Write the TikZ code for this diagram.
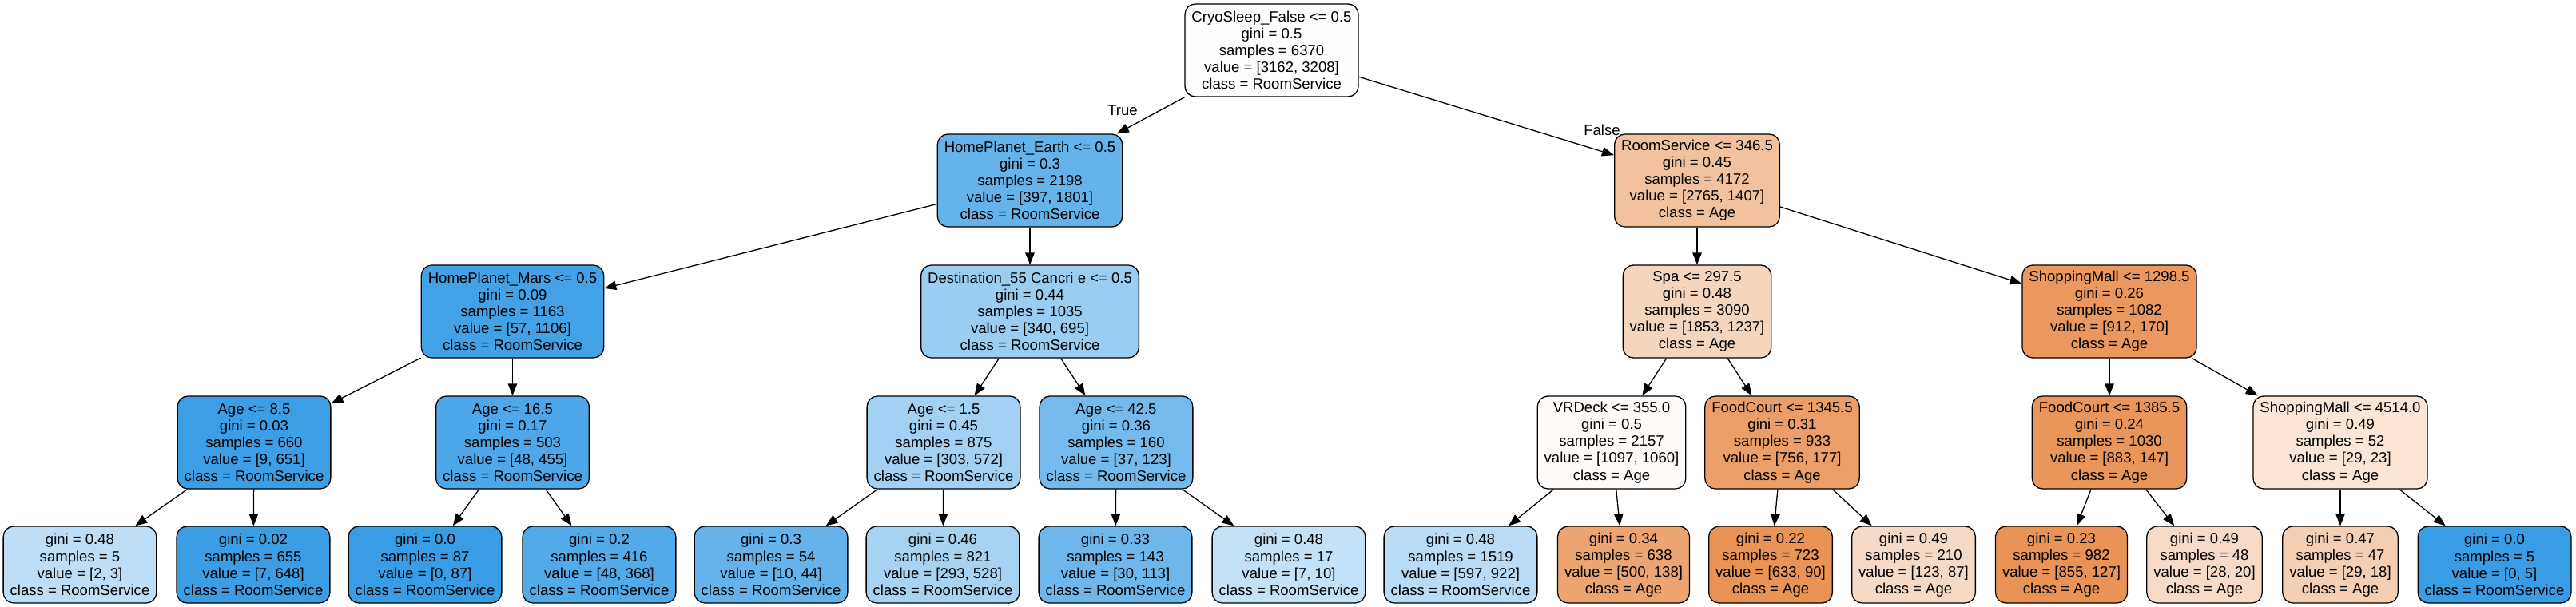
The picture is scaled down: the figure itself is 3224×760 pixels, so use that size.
\documentclass[tikz,border=0pt]{standalone}
\usepackage{fontspec}
\setmainfont{Liberation Sans}
\usetikzlibrary{arrows.meta}
\definecolor{cA}{RGB}{252,254,255}
\definecolor{cB}{RGB}{101,179,235}
\definecolor{cC}{RGB}{242,193,158}
\definecolor{cD}{RGB}{67,162,230}
\definecolor{cE}{RGB}{154,205,242}
\definecolor{cF}{RGB}{246,213,189}
\definecolor{cG}{RGB}{234,152,94}
\definecolor{cH}{RGB}{60,158,229}
\definecolor{cI}{RGB}{78,167,232}
\definecolor{cJ}{RGB}{162,209,243}
\definecolor{cK}{RGB}{117,186,237}
\definecolor{cL}{RGB}{254,251,248}
\definecolor{cM}{RGB}{235,158,103}
\definecolor{cN}{RGB}{233,150,90}
\definecolor{cO}{RGB}{250,229,214}
\definecolor{l01}{RGB}{189,222,246}
\definecolor{l02}{RGB}{59,158,229}
\definecolor{l03}{RGB}{57,157,229}
\definecolor{l04}{RGB}{83,170,232}
\definecolor{l05}{RGB}{102,179,235}
\definecolor{l06}{RGB}{167,211,243}
\definecolor{l07}{RGB}{110,183,236}
\definecolor{l08}{RGB}{196,226,247}
\definecolor{l09}{RGB}{185,220,246}
\definecolor{l10}{RGB}{236,164,112}
\definecolor{l11}{RGB}{233,147,85}
\definecolor{l12}{RGB}{247,218,197}
\definecolor{l13}{RGB}{233,148,86}
\definecolor{l14}{RGB}{248,219,198}
\definecolor{l15}{RGB}{245,207,180}
\definecolor{l16}{RGB}{57,157,229}
\tikzset{
  tn/.style={draw=black, line width=1.3pt, rounded corners=13pt, align=center,
    inner xsep=8.5pt, inner ysep=0pt, font=\fontsize{18.55}{21.1}\selectfont},
  inner/.style={tn, minimum height=116pt},
  leaf/.style={tn, minimum height=96pt},
  conn/.style={line width=1.3pt, -{Triangle[length=15pt,width=11.5pt]}},
  elab/.style={font=\fontsize{18.55}{21.1}\selectfont, inner sep=0pt}
}
\begin{document}
\begin{tikzpicture}[x=1pt,y=-1pt]
\useasboundingbox (0,0) rectangle (3224,760);
% level 0
\node[inner, fill=cA] (n0) at (1591.5,63) {CryoSleep\_False <= 0.5\\gini = 0.5\\samples = 6370\\value = [3162, 3208]\\class = RoomService};
% level 1
\node[inner, fill=cB] (n1) at (1289,226) {HomePlanet\_Earth <= 0.5\\gini = 0.3\\samples = 2198\\value = [397, 1801]\\class = RoomService};
\node[inner, fill=cC] (n2) at (2124,226) {RoomService <= 346.5\\gini = 0.45\\samples = 4172\\value = [2765, 1407]\\class = Age};
% level 2
\node[inner, fill=cD] (n3) at (641.5,390) {HomePlanet\_Mars <= 0.5\\gini = 0.09\\samples = 1163\\value = [57, 1106]\\class = RoomService};
\node[inner, fill=cE] (n4) at (1289,390) {Destination\_55 Cancri e <= 0.5\\gini = 0.44\\samples = 1035\\value = [340, 695]\\class = RoomService};
\node[inner, fill=cF] (n5) at (2124,390) {Spa <= 297.5\\gini = 0.48\\samples = 3090\\value = [1853, 1237]\\class = Age};
\node[inner, fill=cG] (n6) at (2640,390) {ShoppingMall <= 1298.5\\gini = 0.26\\samples = 1082\\value = [912, 170]\\class = Age};
% level 3
\node[inner, fill=cH] (n7) at (318,554) {Age <= 8.5\\gini = 0.03\\samples = 660\\value = [9, 651]\\class = RoomService};
\node[inner, fill=cI] (n8) at (641.5,554) {Age <= 16.5\\gini = 0.17\\samples = 503\\value = [48, 455]\\class = RoomService};
\node[inner, fill=cJ] (n9) at (1181,554) {Age <= 1.5\\gini = 0.45\\samples = 875\\value = [303, 572]\\class = RoomService};
\node[inner, fill=cK] (n10) at (1397,554) {Age <= 42.5\\gini = 0.36\\samples = 160\\value = [37, 123]\\class = RoomService};
\node[inner, fill=cL] (n11) at (2017,554) {VRDeck <= 355.0\\gini = 0.5\\samples = 2157\\value = [1097, 1060]\\class = Age};
\node[inner, fill=cM] (n12) at (2230.5,554) {FoodCourt <= 1345.5\\gini = 0.31\\samples = 933\\value = [756, 177]\\class = Age};
\node[inner, fill=cN] (n13) at (2640,554) {FoodCourt <= 1385.5\\gini = 0.24\\samples = 1030\\value = [883, 147]\\class = Age};
\node[inner, fill=cO] (n14) at (2929,554) {ShoppingMall <= 4514.0\\gini = 0.49\\samples = 52\\value = [29, 23]\\class = Age};
% leaves
\node[leaf, fill=l01] (m1) at (100,707) {gini = 0.48\\samples = 5\\value = [2, 3]\\class = RoomService};
\node[leaf, fill=l02] (m2) at (317,707) {gini = 0.02\\samples = 655\\value = [7, 648]\\class = RoomService};
\node[leaf, fill=l03] (m3) at (532,707) {gini = 0.0\\samples = 87\\value = [0, 87]\\class = RoomService};
\node[leaf, fill=l04] (m4) at (750,707) {gini = 0.2\\samples = 416\\value = [48, 368]\\class = RoomService};
\node[leaf, fill=l05] (m5) at (965,707) {gini = 0.3\\samples = 54\\value = [10, 44]\\class = RoomService};
\node[leaf, fill=l06] (m6) at (1180,707) {gini = 0.46\\samples = 821\\value = [293, 528]\\class = RoomService};
\node[leaf, fill=l07] (m7) at (1396,707) {gini = 0.33\\samples = 143\\value = [30, 113]\\class = RoomService};
\node[leaf, fill=l08] (m8) at (1613,707) {gini = 0.48\\samples = 17\\value = [7, 10]\\class = RoomService};
\node[leaf, fill=l09] (m9) at (1828,707) {gini = 0.48\\samples = 1519\\value = [597, 922]\\class = RoomService};
\node[leaf, fill=l10] (m10) at (2032,707) {gini = 0.34\\samples = 638\\value = [500, 138]\\class = Age};
\node[leaf, fill=l11] (m11) at (2216,707) {gini = 0.22\\samples = 723\\value = [633, 90]\\class = Age};
\node[leaf, fill=l12] (m12) at (2395,707) {gini = 0.49\\samples = 210\\value = [123, 87]\\class = Age};
\node[leaf, fill=l13] (m13) at (2580,707) {gini = 0.23\\samples = 982\\value = [855, 127]\\class = Age};
\node[leaf, fill=l14] (m14) at (2759,707) {gini = 0.49\\samples = 48\\value = [28, 20]\\class = Age};
\node[leaf, fill=l15] (m15) at (2929,707) {gini = 0.47\\samples = 47\\value = [29, 18]\\class = Age};
\node[leaf, fill=l16] (m16) at (3122,707) {gini = 0.0\\samples = 5\\value = [0, 5]\\class = RoomService};
% edge labels
\node[elab] (tlab) at (1405,138) {True};
\node[elab] (flab) at (2005,163) {False};
% connectors
\draw[conn] (n0) -- (n1);
\draw[conn] (n0) -- (n2);
\draw[conn] (n1) -- (n3);
\draw[conn] (n1) -- (n4);
\draw[conn] (n2) -- (n5);
\draw[conn] (n2) -- (n6);
\draw[conn] (n3) -- (n7);
\draw[conn] (n3) -- (n8);
\draw[conn] (n4) -- (n9);
\draw[conn] (n4) -- (n10);
\draw[conn] (n5) -- (n11);
\draw[conn] (n5) -- (n12);
\draw[conn] (n6) -- (n13);
\draw[conn] (n6) -- (n14);
\draw[conn] (n7) -- (m1);
\draw[conn] (n7) -- (m2);
\draw[conn] (n8) -- (m3);
\draw[conn] (n8) -- (m4);
\draw[conn] (n9) -- (m5);
\draw[conn] (n9) -- (m6);
\draw[conn] (n10) -- (m7);
\draw[conn] (n10) -- (m8);
\draw[conn] (n11) -- (m9);
\draw[conn] (n11) -- (m10);
\draw[conn] (n12) -- (m11);
\draw[conn] (n12) -- (m12);
\draw[conn] (n13) -- (m13);
\draw[conn] (n13) -- (m14);
\draw[conn] (n14) -- (m15);
\draw[conn] (n14) -- (m16);
\end{tikzpicture}
\end{document}
